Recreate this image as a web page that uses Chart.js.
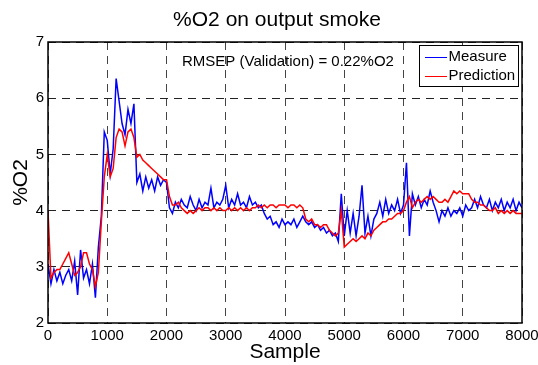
<!DOCTYPE html>
<html>
<head>
<meta charset="utf-8">
<script src="https://cdn.jsdelivr.net/npm/chart.js@4.4.1/dist/chart.umd.min.js"></script>
<style>
  html, body { margin: 0; padding: 0; background: #fff; }
  #wrap { width: 538px; height: 365px; }
</style>
</head>
<body>
<div id="wrap"><canvas id="c" width="538" height="365"></canvas></div>
<script>
// ---- data ----
const chartTitle = '%O2 on output smoke';
const xAxisTitle = 'Sample';
const yAxisTitle = '%O2';
const annotationText = 'RMSEP (Validation) = 0.22%O2';
const seriesNames = ['Measure', 'Prediction'];
const sampleStep = 50;           // samples between stored readings
const xTicks = [0, 1000, 2000, 3000, 4000, 5000, 6000, 7000, 8000];
const yTicks = [2, 3, 4, 5, 6, 7];

const measure = [
  3.05,2.7,2.95,2.75,2.9,2.7,2.85,2.95,2.75,3.1, 2.5,3.3,2.8,2.95,2.7,3.05,2.45,3.35,3.9,5.4,
  5.25,4.65,5.1,6.35,5.95,5.55,5.35,5.8,5.55,5.9, 4.5,4.65,4.35,4.6,4.4,4.55,4.35,4.6,4.45,4.55,
  4.5,4.05,3.95,4.15,4.05,4.2,4.1,4.05,4.25,4.1, 4.0,4.2,4.05,4.15,4.1,4.4,4.05,4.15,4.1,4.2,
  4.45,4.05,4.2,4.1,4.3,4.1,4.15,4.05,4.25,4.1, 4.15,4.05,4.1,3.95,3.85,3.9,3.75,3.8,3.7,3.85,
  3.75,3.8,3.75,3.85,3.7,3.8,3.9,3.8,3.75,3.8, 3.7,3.75,3.65,3.7,3.6,3.65,3.55,3.6,3.45,4.3,
  3.55,4.0,3.6,3.95,3.55,3.9,4.45,3.6,3.9,3.55, 3.85,3.95,4.15,3.9,4.2,3.95,4.1,4.0,4.2,3.95,
  4.1,4.85,3.55,4.3,4.1,4.25,4.05,4.2,4.1,4.35, 4.15,4.0,3.8,4.0,3.9,4.05,3.9,4.0,3.95,4.05,
  3.9,4.1,4.0,4.05,4.2,4.05,4.25,4.1,4.05,4.2, 4.0,4.15,4.05,4.2,4.0,4.15,4.05,4.2,4.0,4.15,
  4.05
];
const prediction = [
  4.0,2.8,2.9,2.95,2.95,3.05,3.15,3.25,3.05,2.85, 2.9,3.0,3.25,3.25,3.05,2.95,2.65,2.9,3.8,4.6,
  5.0,4.6,4.75,5.3,5.45,5.4,5.15,5.4,5.45,5.3, 4.95,5.0,4.9,4.85,4.8,4.75,4.7,4.65,4.6,4.55,
  4.55,4.25,4.1,4.1,4.15,4.05,4.0,3.95,4.0,3.95, 4.0,4.05,4.0,4.05,4.05,4.0,4.05,4.0,4.05,4.0,
  4.0,4.05,4.0,4.05,4.0,4.05,4.0,4.05,4.0,4.05, 4.05,4.1,4.05,4.1,4.05,4.1,4.1,4.05,4.1,4.1,
  4.1,4.05,4.1,4.1,4.05,4.1,4.05,3.85,3.8,3.85, 3.75,3.75,3.7,3.75,3.75,3.65,3.6,3.55,3.6,4.0,
  3.35,3.4,3.45,3.5,3.45,3.5,3.55,3.5,3.6,3.55, 3.65,3.7,3.75,3.8,3.8,3.85,3.85,3.9,3.95,3.95,
  4.0,4.15,4.25,4.05,4.15,4.2,4.15,4.2,4.25,4.2, 4.25,4.2,4.15,4.15,4.2,4.15,4.25,4.35,4.3,4.35,
  4.3,4.3,4.3,4.2,4.15,4.15,4.1,4.1,4.05,4.0, 4.0,4.05,3.95,4.0,3.95,4.0,3.95,4.0,3.95,3.95,
  3.95
];

// ---- chart ----
const FONT = "'Liberation Sans', Arial, sans-serif";
Chart.defaults.font.family = FONT;
Chart.defaults.color = '#000';

const toPoints = arr => arr.map((v, i) => ({ x: i * sampleStep, y: v }));

const overlay = {
  id: 'overlay',
  afterDraw(chart) {
    const { ctx, chartArea: a } = chart;
    ctx.save();
    // axes box
    ctx.strokeStyle = '#000';
    ctx.lineWidth = 1.5;
    ctx.strokeRect(a.left, a.top, a.right - a.left, a.bottom - a.top);
    // title
    ctx.fillStyle = '#000';
    ctx.font = '21px ' + FONT;
    ctx.textAlign = 'center';
    ctx.textBaseline = 'middle';
    ctx.fillText(chartTitle, 277, 20);
    // annotation
    ctx.font = '15px ' + FONT;
    ctx.textAlign = 'left';
    ctx.fillText(annotationText, 182, 62);
    // legend
    const lx = 419.5, ly = 45.5, lw = 99, lh = 41;
    ctx.fillStyle = '#fff';
    ctx.fillRect(lx, ly, lw, lh);
    ctx.lineWidth = 1;
    ctx.strokeStyle = '#000';
    ctx.strokeRect(lx, ly, lw, lh);
    const colors = ['#0000ff', '#ff0000'];
    const rows = [56.5, 76];
    for (let i = 0; i < 2; i++) {
      ctx.strokeStyle = colors[i];
      ctx.beginPath();
      ctx.moveTo(425, Math.round(rows[i]) + 0.5);
      ctx.lineTo(447, Math.round(rows[i]) + 0.5);
      ctx.stroke();
      ctx.fillStyle = '#000';
      ctx.fillText(seriesNames[i], 448.5, rows[i]);
    }
    ctx.restore();
  }
};

new Chart(document.getElementById('c'), {
  type: 'line',
  data: {
    datasets: [
      { label: seriesNames[0], data: toPoints(measure), borderColor: '#0000ff', borderWidth: 1.5, pointRadius: 0, tension: 0, order: 2 },
      { label: seriesNames[1], data: toPoints(prediction), borderColor: '#ff0000', borderWidth: 1.5, pointRadius: 0, tension: 0, order: 1 }
    ]
  },
  options: {
    responsive: false,
    animation: false,
    devicePixelRatio: 1,
    layout: { padding: { top: 42, right: 16, bottom: 0, left: 0 } },
    plugins: { legend: { display: false }, tooltip: { enabled: false }, title: { display: false } },
    scales: {
      x: {
        type: 'linear', min: 0, max: 8000,
        afterBuildTicks: s => { s.ticks = xTicks.map(v => ({ value: v })); },
        afterFit: s => { s.height = 42; s.paddingLeft = 0; s.paddingRight = 0; },
        grid: { color: '#444', lineWidth: 1, drawTicks: false },
        border: { display: false, dash: [8, 6] },
        ticks: { padding: 4, maxRotation: 0, autoSkip: false, font: { size: 15 }, color: '#000', callback: v => String(v) },
        title: { display: true, text: xAxisTitle, font: { size: 21 }, color: '#000', padding: { top: 0, bottom: 0 } }
      },
      y: {
        type: 'linear', min: 2, max: 7,
        afterBuildTicks: s => { s.ticks = yTicks.map(v => ({ value: v })); },
        afterFit: s => { s.width = 48; s.paddingTop = 0; s.paddingBottom = 0; },
        grid: { color: '#222', lineWidth: 1, drawTicks: false },
        border: { display: false, dash: [8, 6] },
        ticks: { padding: 4, autoSkip: false, font: { size: 15 }, color: '#000', callback: v => String(v) },
        title: { display: true, text: yAxisTitle, font: { size: 21 }, color: '#000', padding: { top: 9, bottom: 0 } }
      }
    }
  },
  plugins: [overlay]
});
</script>
</body>
</html>
